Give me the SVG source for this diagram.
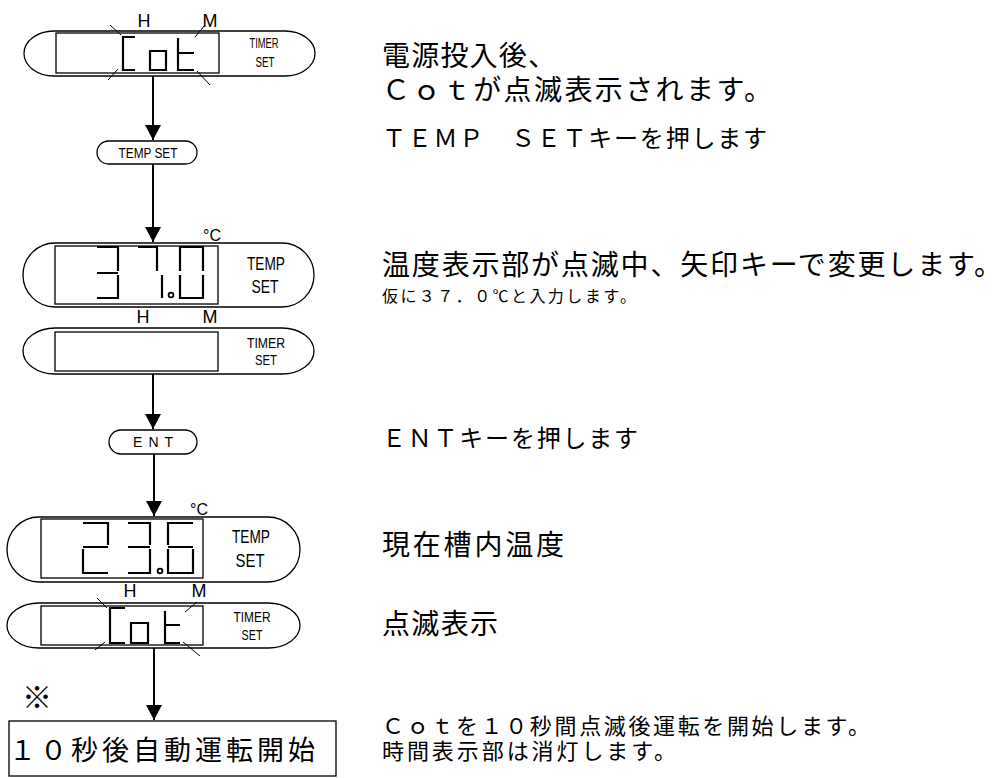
<svg xmlns="http://www.w3.org/2000/svg" width="1006" height="778" viewBox="0 0 1006 778">
<style>
.frame{fill:#fff;stroke:#000;stroke-width:1.3}
.win{fill:none;stroke:#000;stroke-width:1.3}
.seg{fill:none;stroke:#000;stroke-width:2.2;stroke-linejoin:miter}
.blink{stroke:#000;stroke-width:1}
.dot{fill:#fff;stroke:#000;stroke-width:1.8}
.conn{stroke:#000;stroke-width:2;fill:none}
.lat{font-family:"Liberation Sans",Arial,sans-serif;fill:#000}
.jp{font-family:"Liberation Sans","Noto Sans CJK JP","Noto Sans CJK SC",sans-serif;fill:#000}
.mid{text-anchor:middle}
</style>
<defs>
<marker id="ah" markerUnits="userSpaceOnUse" markerWidth="16" markerHeight="17" refX="15" refY="8" orient="auto">
<path d="M0,0 L15,8 L0,16 Z" fill="#000"/>
</marker>
</defs>
<rect width="1006" height="778" fill="#fff"/>

<g id="connectors">
<line class="conn" x1="153" y1="76" x2="153" y2="140" marker-end="url(#ah)"/>
<line class="conn" x1="153" y1="164" x2="153" y2="242" marker-end="url(#ah)"/>
<line class="conn" x1="153" y1="374" x2="153" y2="429" marker-end="url(#ah)"/>
<line class="conn" x1="154" y1="454" x2="154" y2="516" marker-end="url(#ah)"/>
<line class="conn" x1="154" y1="648" x2="154" y2="720" marker-end="url(#ah)"/>
</g>

<g id="disp-cot-start">
<rect class="frame" x="24" y="31" width="291" height="45" rx="30" ry="22.5"/>
<rect class="win" x="56" y="33" width="163" height="40"/>
<path class="seg" d="M135,37 H123 V70 H135"/>
<path class="seg" d="M150,51 H166 V70 H150 Z"/>
<path class="seg" d="M178,38 V70 H194 M178,53 H194"/>
<line class="blink" x1="110" y1="25" x2="121" y2="35"/>
<line class="blink" x1="108" y1="80" x2="118" y2="69"/>
<line class="blink" x1="205" y1="25" x2="195" y2="37"/>
<line class="blink" x1="197" y1="71" x2="210" y2="85"/>
<text class="lat mid" x="144" y="27" font-size="18">H</text>
<text class="lat mid" x="210" y="27" font-size="18">M</text>
<text class="lat mid" x="264" y="48" font-size="14" textLength="29" lengthAdjust="spacingAndGlyphs">TIMER</text>
<text class="lat mid" x="265" y="67" font-size="14" textLength="19" lengthAdjust="spacingAndGlyphs">SET</text>
</g>

<g id="key-temp-set">
<rect class="frame" x="97" y="141" width="100" height="23" rx="11.5"/>
<text class="lat mid" x="148" y="158" font-size="15" textLength="59" lengthAdjust="spacingAndGlyphs">TEMP SET</text>
</g>

<g id="disp-temp-370">
<rect class="frame" x="23" y="243" width="291" height="64" rx="32" ry="32"/>
<rect class="win" x="55" y="246" width="163" height="58"/>
<text class="lat mid" x="212" y="241" font-size="16">°C</text>
<path class="seg" d="M97,247 H118 V271 M97,273 H118 M118,275 V298 H97"/>
<path class="seg" d="M138,247 H157 V271 M162,275 V298"/>
<circle class="dot" cx="171" cy="295" r="2.4"/>
<path class="seg" d="M180,271 V247 H203 V271 M180,275 V298 H203 V275"/>
<text class="lat mid" x="266" y="270" font-size="19" textLength="38" lengthAdjust="spacingAndGlyphs">TEMP</text>
<text class="lat mid" x="265" y="293" font-size="19" textLength="27" lengthAdjust="spacingAndGlyphs">SET</text>
</g>

<g id="disp-timer-blank">
<text class="lat mid" x="143" y="323" font-size="18">H</text>
<text class="lat mid" x="210" y="323" font-size="18">M</text>
<rect class="frame" x="23" y="328" width="291" height="46" rx="32" ry="23"/>
<rect class="win" x="55" y="332" width="163" height="39"/>
<text class="lat mid" x="266" y="348" font-size="15" textLength="38" lengthAdjust="spacingAndGlyphs">TIMER</text>
<text class="lat mid" x="266" y="365" font-size="15" textLength="22" lengthAdjust="spacingAndGlyphs">SET</text>
</g>

<g id="key-ent">
<rect class="frame" x="109" y="430" width="88" height="24" rx="12"/>
<text class="lat mid" x="153" y="447" font-size="14" textLength="40">E N T</text>
</g>

<g id="disp-temp-236">
<rect class="frame" x="7" y="517" width="293" height="65" rx="32" ry="32.5"/>
<rect class="win" x="41" y="519" width="162" height="59"/>
<text class="lat mid" x="199" y="515" font-size="16">°C</text>
<path class="seg" d="M83,523 H108 V545 M108,547 H83 M83,549 V573 H108"/>
<path class="seg" d="M128,523 H150 V545 M128,547 H150 M150,549 V573 H128"/>
<circle class="dot" cx="160" cy="571" r="2.4"/>
<path class="seg" d="M193,523 H168 V545 M168,549 V573 H193 V549 M168,547 H193"/>
<text class="lat mid" x="251" y="543" font-size="19" textLength="38" lengthAdjust="spacingAndGlyphs">TEMP</text>
<text class="lat mid" x="250" y="567" font-size="19" textLength="29" lengthAdjust="spacingAndGlyphs">SET</text>
</g>

<g id="disp-cot-blink">
<text class="lat mid" x="130" y="597" font-size="18">H</text>
<text class="lat mid" x="199" y="597" font-size="18">M</text>
<rect class="frame" x="7" y="603" width="293" height="45" rx="32" ry="22.5"/>
<rect class="win" x="41" y="606" width="162" height="39"/>
<path class="seg" d="M125,608 H110 V643 H125"/>
<path class="seg" d="M131,623 H148 V643 H131 Z"/>
<path class="seg" d="M165,611 V643 H180 M165,625 H180"/>
<line class="blink" x1="97" y1="598" x2="107" y2="608"/>
<line class="blink" x1="197" y1="602" x2="185" y2="612"/>
<line class="blink" x1="95" y1="650" x2="105" y2="642"/>
<line class="blink" x1="183" y1="642" x2="200" y2="656"/>
<text class="lat mid" x="252" y="622" font-size="14" textLength="37" lengthAdjust="spacingAndGlyphs">TIMER</text>
<text class="lat mid" x="252" y="640" font-size="14" textLength="21" lengthAdjust="spacingAndGlyphs">SET</text>
</g>

<g id="note-mark">
<text class="jp mid" x="37" y="708" font-size="30">※</text>
</g>

<g id="box-auto-start">
<rect x="9" y="721" width="327" height="55" fill="none" stroke="#000" stroke-width="1.3"/>
<text class="jp" x="9" y="760" font-size="27" textLength="306">１０秒後自動運転開始</text>
</g>

<g id="descriptions">
<text class="jp" x="382" y="66" font-size="28" textLength="174">電源投入後、</text>
<text class="jp" x="382" y="100" font-size="28" textLength="390">Ｃｏｔが点滅表示されます。</text>
<text class="jp" x="382" y="147" font-size="24" textLength="385">ＴＥＭＰ　ＳＥＴキーを押します</text>
<text class="jp" x="382" y="275" font-size="28" textLength="620">温度表示部が点滅中、矢印キーで変更します。</text>
<text class="jp" x="382" y="302" font-size="16" textLength="254">仮に３７．０℃と入力します。</text>
<text class="jp" x="382" y="447" font-size="24" textLength="256">ＥＮＴキーを押します</text>
<text class="jp" x="382" y="555" font-size="28" textLength="182">現在槽内温度</text>
<text class="jp" x="382" y="634" font-size="28" textLength="116">点滅表示</text>
<text class="jp" x="382" y="734" font-size="22" textLength="488">Ｃｏｔを１０秒間点滅後運転を開始します。</text>
<text class="jp" x="382" y="759" font-size="22" textLength="294">時間表示部は消灯します。</text>
</g>
</svg>
